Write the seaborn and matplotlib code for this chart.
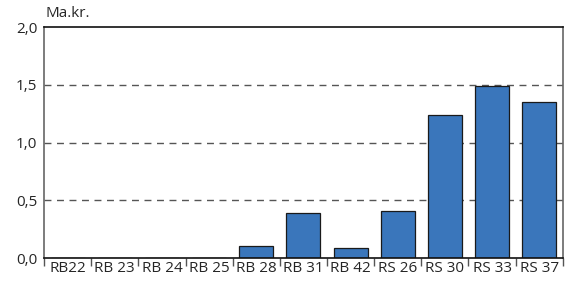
import matplotlib
matplotlib.use('Agg')
import matplotlib.pyplot as plt
import seaborn as sns
import numpy as np
import pandas as pd

categories = ['RB22', 'RB 23', 'RB 24', 'RB 25', 'RB 28', 'RB 31', 'RB 42',
              'RS 26', 'RS 30', 'RS 33', 'RS 37']
values = [0.0, 0.0, 0.0, 0.0, 0.10, 0.39, 0.09, 0.41, 1.24, 1.49, 1.35]
y_ticks = [0.0, 0.5, 1.0, 1.5, 2.0]
y_labels = ['0,0', '0,5', '1,0', '1,5', '2,0']

sns.set_style('white')
plt.rcParams['font.family'] = ['Open Sans', 'DejaVu Sans']

df = pd.DataFrame({'cat': categories, 'val': values})

fig = plt.figure(figsize=(5.65, 2.82), dpi=100)
ax = fig.add_axes([0.078, 0.085, 0.918, 0.819])

# dashed grid lines behind bars
for y in y_ticks[1:-1]:
    ax.axhline(y, color='#555555', linestyle=(0, (5, 4)), linewidth=1.0, zorder=0)

sns.barplot(data=df, x='cat', y='val', color='#3a76bb', saturation=1,
            width=0.72, edgecolor='#1a1a1a', linewidth=0.9, ax=ax, zorder=2)

ax.set_ylim(0, 2.0)
ax.set_xlim(-0.5, len(categories) - 0.5)
ax.set_yticks(y_ticks)
ax.set_yticklabels(y_labels, fontsize=11)
ax.set_xticks(range(len(categories)))
ax.set_xticklabels(categories, fontsize=11)
ax.tick_params(axis='x', which='major', length=0, pad=2)
ax.tick_params(axis='y', length=0, pad=5)
ax.set_xticks(np.arange(-0.5, len(categories) + 0.5, 1), minor=True)
ax.tick_params(axis='x', which='minor', length=6, width=1, color='#555555',
               direction='out', bottom=True)
ax.set_xlabel('')
ax.set_ylabel('')

for side in ['left', 'right']:
    ax.spines[side].set_color('#666666')
    ax.spines[side].set_linewidth(1.2)
for side in ['top', 'bottom']:
    ax.spines[side].set_color('#111111')
    ax.spines[side].set_linewidth(1.2)
    ax.spines[side].set_visible(True)

ax.text(0.003, 1.025, 'Ma.kr.', transform=ax.transAxes, fontsize=11,
        ha='left', va='bottom')

fig.savefig('out.png', dpi=100)
